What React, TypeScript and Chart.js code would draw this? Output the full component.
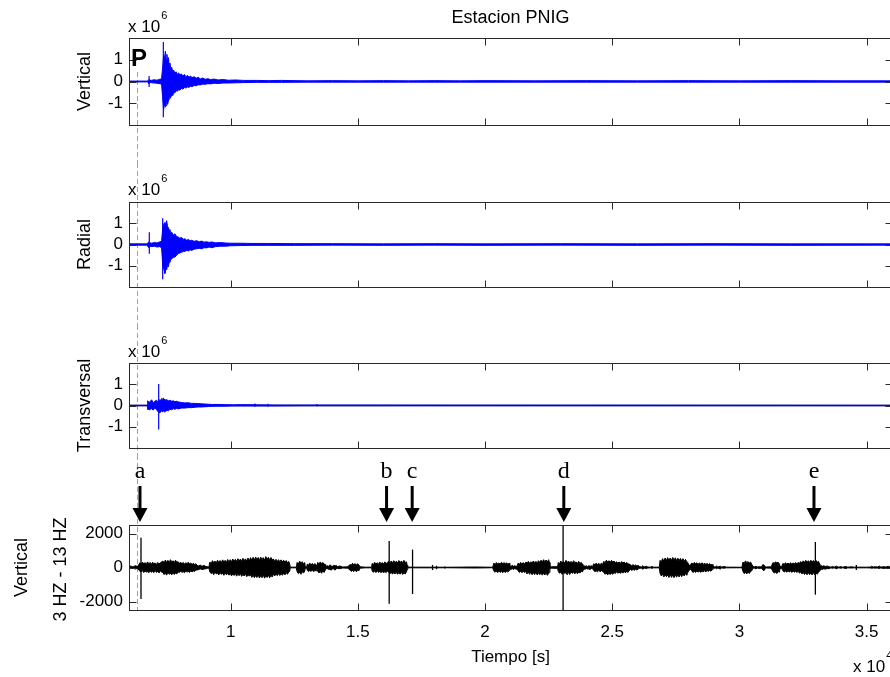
import React, { useEffect, useRef } from 'react';
import { Chart, registerables } from 'chart.js';

Chart.register(...registerables);

const SANS = '"Liberation Sans", Arial, Helvetica, sans-serif';
const SERIF = '"Liberation Serif", "Times New Roman", serif';

// ---------- data ----------
const T_MIN = 6000; // s
const T_MAX = 36000; // s
const X_TICKS = [10000, 15000, 20000, 25000, 30000, 35000];
const P_ARRIVAL = 6315; // s, dashed P-wave marker

const TOP_Y_TICKS = [-1, 0, 1]; // x 10^6
const FILT_Y_TICKS = [-2000, 0, 2000];

// envelopes: [time (s), upper, lower]  (top three panels in units of 10^6)
const VERT_ENV: number[][] = [
  [6000, 0.02, -0.02], [6700, 0.02, -0.02], [6760, 0.03, -0.03], [6780, 0.1, -0.1], [6800, 0.08, -0.06],
  [6820, 0.04, -0.04], [6900, 0.06, -0.06], [7000, 0.08, -0.07], [7100, 0.06, -0.08], [7200, 0.1, -0.1],
  [7280, 0.12, -0.12], [7320, 0.6, -0.7], [7360, 1.2, -1.3], [7400, 1.1, -1.0], [7430, 1.39, -1.18],
  [7460, 1.0, -1.1], [7490, 1.25, -0.95], [7520, 0.9, -1.05], [7550, 1.1, -0.9], [7580, 0.75, -0.8],
  [7610, 0.85, -0.7], [7640, 0.6, -0.75], [7680, 0.65, -0.6], [7720, 0.45, -0.65], [7760, 0.52, -0.5],
  [7800, 0.38, -0.53], [7850, 0.45, -0.42], [7900, 0.32, -0.45], [7950, 0.4, -0.38], [8000, 0.3, -0.4],
  [8060, 0.35, -0.32], [8120, 0.25, -0.35], [8180, 0.32, -0.28], [8240, 0.22, -0.3], [8300, 0.28, -0.25],
  [8360, 0.2, -0.27], [8420, 0.25, -0.22], [8480, 0.18, -0.24], [8560, 0.22, -0.18], [8640, 0.15, -0.2],
  [8720, 0.2, -0.15], [8800, 0.12, -0.16], [8900, 0.16, -0.12], [9000, 0.1, -0.13], [9100, 0.13, -0.1],
  [9200, 0.09, -0.11], [9350, 0.11, -0.08], [9500, 0.07, -0.09], [9700, 0.09, -0.07], [9900, 0.06, -0.07],
  [10200, 0.07, -0.06], [10500, 0.05, -0.05], [11000, 0.05, -0.04], [11500, 0.04, -0.04], [12000, 0.05, -0.04],
  [13000, 0.03, -0.03], [14000, 0.04, -0.03], [15000, 0.03, -0.03], [16000, 0.04, -0.03], [17000, 0.03, -0.03],
  [18000, 0.04, -0.03], [19000, 0.03, -0.03], [20000, 0.04, -0.03], [22000, 0.03, -0.03], [24000, 0.04, -0.03],
  [26000, 0.03, -0.03], [28000, 0.04, -0.03], [30000, 0.03, -0.03], [32000, 0.04, -0.03], [34000, 0.03, -0.03],
  [36000, 0.03, -0.03],
];
// spikes: [time (s), lower, upper]
const VERT_SPIKES: number[][] = [[6790, -0.25, 0.25], [7350, -1.64, 1.82]];

const RAD_ENV: number[][] = [
  [6000, 0.03, -0.03], [6700, 0.03, -0.03], [6780, 0.12, -0.15], [6820, 0.08, -0.08], [6900, 0.06, -0.1],
  [7000, 0.1, -0.08], [7100, 0.07, -0.12], [7200, 0.12, -0.1], [7280, 0.15, -0.15], [7330, 0.8, -1.0],
  [7380, 1.0, -1.2], [7415, 1.04, -1.36], [7450, 0.9, -1.1], [7481, 1.12, -1.2], [7515, 0.85, -0.95],
  [7546, 0.81, -1.05], [7580, 0.7, -0.85], [7612, 0.66, -0.82], [7645, 0.55, -0.7], [7679, 0.58, -0.68],
  [7740, 0.45, -0.6], [7808, 0.5, -0.59], [7870, 0.38, -0.5], [7939, 0.35, -0.43], [8000, 0.3, -0.4],
  [8070, 0.33, -0.36], [8140, 0.25, -0.33], [8201, 0.27, -0.32], [8270, 0.2, -0.28], [8340, 0.24, -0.3],
  [8400, 0.18, -0.25], [8464, 0.2, -0.28], [8560, 0.15, -0.22], [8660, 0.18, -0.2], [8760, 0.13, -0.18],
  [8857, 0.16, -0.2], [8950, 0.11, -0.15], [9050, 0.13, -0.16], [9150, 0.1, -0.12], [9250, 0.12, -0.15],
  [9400, 0.08, -0.1], [9600, 0.09, -0.08], [9800, 0.07, -0.08], [10000, 0.06, -0.06], [10400, 0.06, -0.05],
  [10800, 0.05, -0.04], [11500, 0.05, -0.04], [12500, 0.04, -0.04], [14000, 0.04, -0.03], [16000, 0.03, -0.04],
  [18000, 0.04, -0.03], [20000, 0.03, -0.04], [23000, 0.04, -0.03], [26000, 0.03, -0.04], [29000, 0.04, -0.03],
  [32000, 0.03, -0.04], [36000, 0.03, -0.03],
];
const RAD_SPIKES: number[][] = [[6798, -0.43, 0.58], [7324, -1.64, 1.24]];

const TRANS_ENV: number[][] = [
  [6000, 0.01, -0.01], [6720, 0.01, -0.01], [6734, 0.22, -0.18], [6800, 0.15, -0.2], [6891, 0.27, -0.15],
  [6950, 0.12, -0.22], [7020, 0.2, -0.12], [7087, 0.25, -0.2], [7130, 0.15, -0.28], [7218, 0.28, -0.35],
  [7250, 0.2, -0.25], [7284, 0.33, -0.27], [7320, 0.25, -0.3], [7349, 0.36, -0.22], [7380, 0.28, -0.3],
  [7415, 0.3, -0.25], [7450, 0.22, -0.28], [7480, 0.28, -0.22], [7546, 0.22, -0.25], [7610, 0.25, -0.18],
  [7677, 0.2, -0.2], [7740, 0.22, -0.15], [7808, 0.18, -0.18], [7870, 0.2, -0.14], [7939, 0.17, -0.16],
  [8070, 0.14, -0.12], [8201, 0.12, -0.12], [8330, 0.13, -0.1], [8463, 0.1, -0.1], [8600, 0.1, -0.08],
  [8725, 0.09, -0.07], [8850, 0.08, -0.07], [8987, 0.07, -0.06], [9120, 0.06, -0.05], [9249, 0.05, -0.04],
  [9500, 0.05, -0.03], [9773, 0.04, -0.03], [10100, 0.03, -0.02], [10428, 0.04, -0.02], [11083, 0.03, -0.02],
  [11738, 0.02, -0.02], [13000, 0.02, -0.01], [36000, 0.01, -0.01],
];
const TRANS_SPIKES: number[][] = [[7167, -1.13, 1.01], [10952, -0.06, 0.1], [11463, -0.05, 0.08], [13388, -0.04, 0.07]];

// band-pass filtered vertical (counts)
const FILT_ENV: number[][] = [
  [6000, 40, -40], [6080, 90, -60], [6150, 30, -40], [6250, 110, -90], [6330, 60, -50], [6380, 160, -150],
  [6432, 280, -220], [6480, 170, -260], [6530, 320, -180], [6580, 200, -300], [6630, 290, -200], [6680, 180, -270],
  [6730, 330, -240], [6780, 210, -310], [6830, 300, -190], [6880, 190, -280], [6930, 310, -230], [6980, 220, -300],
  [7030, 270, -180], [7080, 180, -290], [7130, 300, -230], [7180, 210, -320], [7230, 280, -200], [7280, 330, -260],
  [7336, 380, -300], [7380, 260, -420], [7430, 440, -330], [7480, 300, -450], [7530, 420, -280], [7580, 290, -400],
  [7630, 460, -350], [7680, 320, -430], [7730, 400, -300], [7780, 280, -410], [7830, 430, -320], [7880, 300, -380],
  [7926, 350, -250], [7980, 240, -300], [8030, 320, -200], [8080, 210, -290], [8130, 300, -240], [8180, 190, -310],
  [8230, 280, -200], [8280, 220, -270], [8330, 310, -230], [8380, 200, -290], [8430, 270, -190], [8480, 180, -260],
  [8530, 250, -200], [8580, 170, -230], [8630, 220, -160], [8672, 130, -140], [8730, 90, -130], [8800, 140, -80],
  [8870, 70, -120], [8950, 120, -90], [9020, 60, -80], [9065, 50, -50], [9120, 30, -30], [9144, 60, -50],
  [9180, 320, -260], [9230, 220, -360], [9280, 400, -300], [9330, 280, -420], [9380, 380, -260], [9430, 260, -380],
  [9480, 430, -330], [9530, 300, -440], [9580, 410, -290], [9630, 280, -400], [9680, 450, -340], [9730, 320, -460],
  [9780, 420, -300], [9830, 300, -430], [9880, 470, -350], [9930, 330, -450], [9980, 460, -360], [10030, 340, -490],
  [10080, 500, -380], [10130, 360, -470], [10180, 480, -340], [10230, 350, -510], [10280, 520, -400], [10330, 380, -480],
  [10380, 500, -360], [10430, 360, -520], [10480, 540, -410], [10530, 400, -500], [10580, 510, -370], [10630, 370, -540],
  [10680, 560, -420], [10730, 400, -510], [10780, 580, -430], [10830, 420, -580], [10880, 600, -450], [10930, 440, -600],
  [10980, 620, -470], [11030, 450, -590], [11080, 590, -440], [11130, 430, -620], [11180, 610, -470], [11230, 460, -600],
  [11280, 580, -430], [11330, 420, -630], [11380, 640, -480], [11430, 470, -590], [11480, 600, -450], [11530, 440, -610],
  [11580, 590, -460], [11630, 450, -560], [11680, 500, -380], [11730, 360, -500], [11780, 480, -360], [11830, 350, -480],
  [11880, 460, -340], [11930, 330, -470], [11980, 450, -350], [12030, 320, -460], [12080, 430, -330], [12130, 310, -440],
  [12180, 410, -300], [12230, 290, -400], [12280, 350, -260], [12320, 200, -220], [12340, 20, -20], [12580, 20, -20],
  [12610, 300, -250], [12660, 200, -360], [12710, 380, -280], [12760, 240, -400], [12810, 340, -230], [12860, 220, -330],
  [12910, 290, -210], [12930, 40, -40], [12990, 40, -40], [13010, 200, -160], [13060, 140, -240], [13110, 260, -170],
  [13160, 150, -230], [13210, 240, -150], [13260, 140, -250], [13310, 230, -170], [13360, 150, -200], [13390, 60, -60],
  [13420, 300, -220], [13470, 200, -320], [13520, 330, -240], [13570, 220, -340], [13620, 300, -200], [13670, 200, -290],
  [13710, 180, -160], [13730, 50, -50], [13800, 110, -70], [13850, 60, -110], [13900, 160, -120], [13950, 90, -150],
  [14000, 70, -90], [14050, 130, -80], [14100, 90, -160], [14150, 120, -70], [14200, 50, -60], [14292, 90, -70],
  [14400, 30, -30], [14600, 40, -40], [14690, 180, -150], [14740, 130, -230], [14790, 250, -170], [14840, 160, -240],
  [14890, 230, -150], [14940, 150, -250], [14990, 220, -160], [15040, 150, -190], [15080, 40, -40], [15300, 20, -20],
  [15540, 20, -20], [15560, 240, -200], [15610, 170, -280], [15660, 300, -210], [15710, 200, -300], [15760, 280, -190],
  [15810, 190, -290], [15860, 320, -230], [15910, 220, -310], [15960, 290, -200], [16010, 210, -320], [16060, 330, -240],
  [16110, 230, -300], [16160, 300, -220], [16210, 360, -260], [16260, 250, -370], [16310, 380, -280], [16360, 270, -390],
  [16410, 400, -300], [16460, 290, -380], [16510, 370, -270], [16560, 260, -400], [16610, 410, -300], [16660, 300, -390],
  [16710, 380, -280], [16760, 270, -410], [16810, 420, -310], [16860, 300, -380], [16910, 330, -250], [16940, 120, -120],
  [16960, 20, -20], [17800, 20, -20], [18500, 15, -15], [19598, 30, -30], [20300, 15, -15], [20345, 260, -210],
  [20395, 180, -280], [20445, 290, -200], [20495, 200, -300], [20545, 270, -190], [20595, 190, -290], [20645, 310, -220],
  [20695, 210, -310], [20745, 290, -200], [20795, 200, -300], [20845, 280, -210], [20895, 190, -270], [20945, 250, -180],
  [20973, 100, -100], [21020, 60, -110], [21070, 130, -70], [21120, 70, -120], [21170, 110, -60], [21220, 60, -100],
  [21270, 120, -90], [21300, 260, -200], [21350, 190, -290], [21400, 300, -220], [21450, 210, -310], [21500, 290, -200],
  [21550, 200, -300], [21600, 310, -230], [21650, 280, -380], [21700, 360, -260], [21750, 250, -400], [21800, 340, -280],
  [21850, 270, -430], [21900, 380, -300], [21950, 280, -420], [22000, 360, -270], [22050, 260, -440], [22100, 400, -310],
  [22150, 300, -420], [22200, 430, -320], [22250, 320, -450], [22300, 460, -340], [22350, 340, -440], [22400, 440, -330],
  [22450, 330, -460], [22500, 460, -350], [22530, 300, -300], [22550, 60, -60], [22600, 40, -40], [22850, 50, -50],
  [22880, 300, -240], [22930, 220, -340], [22980, 380, -280], [23030, 260, -400], [23080, 350, -250], [23130, 250, -360],
  [23180, 420, -300], [23230, 290, -430], [23280, 380, -270], [23330, 280, -410], [23380, 360, -260], [23430, 250, -340],
  [23480, 400, -290], [23530, 280, -380], [23580, 330, -230], [23630, 230, -370], [23680, 360, -260], [23730, 240, -330],
  [23780, 300, -220], [23830, 200, -260], [23880, 120, -80], [23930, 60, -110], [23980, 100, -60], [24030, 50, -90],
  [24080, 110, -80], [24130, 70, -120], [24180, 100, -60], [24230, 60, -70], [24270, 220, -170], [24320, 160, -250],
  [24370, 260, -190], [24420, 180, -260], [24470, 240, -160], [24520, 170, -250], [24570, 250, -180], [24620, 190, -240],
  [24670, 360, -280], [24720, 280, -400], [24770, 430, -320], [24820, 320, -440], [24870, 400, -300], [24920, 300, -420],
  [24970, 420, -330], [25020, 320, -400], [25070, 380, -290], [25120, 280, -360], [25170, 340, -240], [25220, 250, -340],
  [25270, 330, -260], [25320, 240, -350], [25370, 350, -250], [25420, 260, -330], [25470, 320, -230], [25520, 230, -320],
  [25570, 300, -220], [25620, 210, -290], [25670, 200, -180], [25720, 160, -120], [25770, 110, -170], [25820, 170, -110],
  [25870, 100, -160], [25920, 150, -100], [25970, 90, -150], [26030, 120, -80], [26082, 50, -50], [26150, 30, -30],
  [26200, 100, -110], [26250, 30, -30], [26350, 70, -60], [26400, 30, -30], [26500, 20, -20], [26560, 60, -50],
  [26620, 20, -20], [26850, 20, -20], [26880, 420, -340], [26930, 340, -500], [26980, 520, -380], [27030, 380, -560],
  [27080, 560, -420], [27130, 410, -540], [27180, 580, -430], [27230, 430, -590], [27280, 560, -410], [27330, 420, -580],
  [27380, 590, -440], [27430, 440, -600], [27480, 570, -420], [27530, 410, -570], [27580, 550, -400], [27630, 400, -560],
  [27680, 540, -390], [27730, 390, -540], [27780, 520, -380], [27830, 370, -500], [27880, 480, -350], [27930, 340, -460],
  [27969, 300, -300], [28020, 120, -160], [28080, 160, -120], [28130, 270, -200], [28180, 190, -300], [28230, 300, -220],
  [28280, 210, -290], [28330, 280, -190], [28380, 190, -280], [28430, 270, -200], [28480, 200, -290], [28530, 280, -190],
  [28580, 180, -270], [28630, 260, -180], [28680, 170, -260], [28730, 250, -170], [28780, 160, -240], [28830, 230, -160],
  [28880, 150, -220], [28930, 180, -130], [28960, 50, -50], [29050, 30, -30], [29100, 90, -70], [29150, 30, -30],
  [29250, 70, -90], [29300, 30, -30], [29420, 60, -40], [29480, 20, -20], [30100, 15, -15], [30140, 320, -240],
  [30190, 240, -360], [30240, 390, -290], [30290, 280, -380], [30340, 350, -260], [30390, 260, -350], [30440, 320, -240],
  [30480, 200, -200], [30530, 80, -50], [30580, 30, -30], [30650, 70, -80], [30700, 30, -30], [30780, 50, -60],
  [30870, 30, -30], [30920, 170, -150], [30970, 130, -180], [31020, 60, -60], [31050, 30, -30], [31250, 40, -40],
  [31320, 290, -240], [31370, 230, -330], [31420, 340, -270], [31470, 260, -360], [31520, 310, -230], [31570, 230, -280],
  [31600, 60, -60], [31660, 50, -50], [31710, 240, -190], [31760, 180, -270], [31810, 280, -200], [31860, 200, -280],
  [31910, 260, -190], [31960, 190, -270], [32010, 280, -210], [32060, 210, -290], [32110, 270, -200], [32160, 200, -280],
  [32210, 290, -210], [32260, 210, -300], [32310, 300, -220], [32360, 240, -330], [32410, 350, -260], [32460, 270, -380],
  [32510, 390, -290], [32560, 290, -410], [32610, 420, -310], [32660, 310, -430], [32710, 400, -300], [32760, 300, -420],
  [32810, 430, -320], [32860, 320, -440], [32910, 410, -300], [32960, 300, -430], [33010, 420, -320], [33060, 310, -400],
  [33110, 360, -270], [33156, 200, -220], [33210, 110, -80], [33260, 70, -120], [33320, 100, -70], [33380, 60, -100],
  [33450, 90, -60], [33520, 50, -70], [33600, 20, -20], [33660, 60, -50], [33720, 20, -20], [33830, 80, -70],
  [33880, 20, -20], [34000, 50, -40], [34060, 20, -20], [34200, 60, -60], [34260, 20, -20], [34400, 40, -30],
  [34531, 20, -20], [35000, 20, -20], [35150, 25, -25], [35200, 70, -50], [35260, 25, -25], [35350, 50, -40],
  [35420, 25, -25], [35500, 80, -60], [35560, 25, -25], [35700, 50, -60], [35760, 25, -25], [35850, 70, -40],
  [35920, 25, -25], [36000, 40, -40],
];
const FILT_SPIKES: number[][] = [
  [6472, -1850, 1750], [16230, -2130, 1560], [17149, -1560, 1050], [23068, -2600, 2600], [32987, -1600, 1500],
  [17935, -150, 150], [18092, -100, 100], [18419, -60, 60], [34598, -150, 150],
];

const EVENT_LABELS = ['a', 'b', 'c', 'd', 'e'];
const EVENT_TIMES = [6432, 16127, 17134, 23096, 32932];

// ---------- layout ----------
const CANVAS_W = 900;
const AXIS_LEFT = 129;
const AXIS_RIGHT_PAD = 8;
const FRAME = '#2a2a2a';
const TICK_LEN = 7;

type Panel = {
  key: string;
  top: number;
  height: number;
  padTop: number;
  padBottom: number;
  yMin: number;
  yMax: number;
  yTicks: number[];
  env: number[][];
  spikes: number[][];
  color: string;
  spikeWidth: number;
  zeroColor?: string;
  showX?: boolean;
  dashFrom: number;
  dashToArea?: boolean;
  decorate: (chart: any) => void;
};

function drawExp(ctx: CanvasRenderingContext2D, x: number, y: number, exp: string) {
  ctx.save();
  ctx.fillStyle = '#000';
  ctx.textAlign = 'left';
  ctx.textBaseline = 'alphabetic';
  ctx.font = `17px ${SANS}`;
  ctx.fillText('x 10', x, y);
  const w = ctx.measureText('x 10').width;
  ctx.font = `11px ${SANS}`;
  ctx.fillText(exp, x + w + 1, y - 13);
  ctx.restore();
}

function drawYLabel(ctx: CanvasRenderingContext2D, text: string, x: number, y: number) {
  ctx.save();
  ctx.translate(x, y);
  ctx.rotate(-Math.PI / 2);
  ctx.fillStyle = '#000';
  ctx.font = `18px ${SANS}`;
  ctx.textAlign = 'center';
  ctx.textBaseline = 'middle';
  ctx.fillText(text, 0, 0);
  ctx.restore();
}

const PANELS: Panel[] = [
  {
    key: 'vert', top: 0, height: 163, padTop: 38, padBottom: 38,
    yMin: -2, yMax: 2, yTicks: TOP_Y_TICKS, env: VERT_ENV, spikes: VERT_SPIKES,
    color: '#0000ff', spikeWidth: 1.2, dashFrom: 72,
    decorate: (chart) => {
      const { ctx, chartArea } = chart;
      ctx.save();
      ctx.fillStyle = '#000';
      ctx.font = `18px ${SANS}`;
      ctx.textAlign = 'center';
      ctx.fillText('Estacion PNIG', (chartArea.left + chartArea.right) / 2, 23);
      ctx.font = `bold 24px ${SANS}`;
      ctx.textAlign = 'left';
      ctx.fillText('P', chartArea.left + 2, chartArea.top + 28);
      ctx.restore();
      drawExp(ctx, chartArea.left - 1, chartArea.top - 6, '6');
      drawYLabel(ctx, 'Vertical', 85, (chartArea.top + chartArea.bottom) / 2);
    },
  },
  {
    key: 'rad', top: 163, height: 162, padTop: 39, padBottom: 38,
    yMin: -2, yMax: 2, yTicks: TOP_Y_TICKS, env: RAD_ENV, spikes: RAD_SPIKES,
    color: '#0000ff', spikeWidth: 1.2, dashFrom: 0,
    decorate: (chart) => {
      const { ctx, chartArea } = chart;
      drawExp(ctx, chartArea.left - 1, chartArea.top - 7, '6');
      drawYLabel(ctx, 'Radial', 85, (chartArea.top + chartArea.bottom) / 2);
    },
  },
  {
    key: 'trans', top: 325, height: 130, padTop: 38, padBottom: 7,
    yMin: -2, yMax: 2, yTicks: TOP_Y_TICKS, env: TRANS_ENV, spikes: TRANS_SPIKES,
    color: '#0000ff', spikeWidth: 1.2, zeroColor: '#10103a', dashFrom: 0,
    decorate: (chart) => {
      const { ctx, chartArea } = chart;
      drawExp(ctx, chartArea.left - 1, chartArea.top - 6, '6');
      drawYLabel(ctx, 'Transversal', 85, (chartArea.top + chartArea.bottom) / 2);
    },
  },
  {
    key: 'filt', top: 455, height: 222, padTop: 70, padBottom: 0,
    yMin: -2500, yMax: 2500, yTicks: FILT_Y_TICKS, env: FILT_ENV, spikes: FILT_SPIKES,
    color: '#000000', spikeWidth: 1.3, showX: true, dashFrom: 0, dashToArea: true,
    decorate: (chart) => {
      const { ctx, chartArea, scales } = chart;
      const mid = (chartArea.top + chartArea.bottom) / 2;
      drawYLabel(ctx, 'Vertical', 22, mid);
      drawYLabel(ctx, '3 HZ - 13 HZ', 61, mid + 2);
      drawExp(ctx, 853, 217, '4');
      ctx.save();
      ctx.fillStyle = '#000';
      ctx.strokeStyle = '#000';
      EVENT_TIMES.forEach((t, i) => {
        const x = scales.x.getPixelForValue(t);
        ctx.font = `24px ${SERIF}`;
        ctx.textAlign = 'center';
        ctx.textBaseline = 'alphabetic';
        ctx.fillText(EVENT_LABELS[i], x, 23);
        ctx.lineWidth = 3;
        ctx.beginPath();
        ctx.moveTo(x, 31);
        ctx.lineTo(x, 56);
        ctx.stroke();
        ctx.beginPath();
        ctx.moveTo(x - 7.5, 53);
        ctx.lineTo(x + 7.5, 53);
        ctx.lineTo(x, 67);
        ctx.closePath();
        ctx.fill();
      });
      ctx.restore();
    },
  },
];

function framePlugin(p: Panel) {
  return {
    id: 'frame_' + p.key,
    beforeDatasetsDraw(chart: any) {
      const { ctx, chartArea, scales } = chart;
      const x = Math.round(scales.x.getPixelForValue(P_ARRIVAL)) + 0.5;
      ctx.save();
      ctx.strokeStyle = '#a0a0a0';
      ctx.lineWidth = 1;
      ctx.setLineDash([5, 3]);
      ctx.beginPath();
      ctx.moveTo(x, p.dashFrom);
      ctx.lineTo(x, p.dashToArea ? chartArea.bottom : chart.height);
      ctx.stroke();
      ctx.restore();
    },
    afterDatasetsDraw(chart: any) {
      const { ctx, chartArea, scales } = chart;
      const l = Math.round(chartArea.left) + 0.5;
      const r = Math.round(chartArea.right) + 0.5;
      const t = Math.round(chartArea.top) + 0.5;
      const b = Math.round(chartArea.bottom) + 0.5;
      ctx.save();
      ctx.strokeStyle = FRAME;
      ctx.lineWidth = 1;
      ctx.strokeRect(l, t, r - l, b - t);
      ctx.beginPath();
      X_TICKS.forEach((v) => {
        const x = Math.round(scales.x.getPixelForValue(v)) + 0.5;
        ctx.moveTo(x, t);
        ctx.lineTo(x, t + TICK_LEN);
        ctx.moveTo(x, b);
        ctx.lineTo(x, b - TICK_LEN);
      });
      p.yTicks.forEach((v) => {
        const y = Math.round(scales.y.getPixelForValue(v)) + 0.5;
        ctx.moveTo(l, y);
        ctx.lineTo(l + TICK_LEN, y);
        ctx.moveTo(r, y);
        ctx.lineTo(r - TICK_LEN, y);
      });
      ctx.stroke();
      ctx.restore();
    },
    afterDraw(chart: any) {
      p.decorate(chart);
    },
  };
}

function buildConfig(p: Panel): any {
  const datasets: any[] = [
    {
      data: p.env.map(([t, hi]) => ({ x: t, y: hi })),
      borderColor: p.color, backgroundColor: p.color, borderWidth: 1,
      pointRadius: 0, fill: '+1', tension: 0,
    },
    {
      data: p.env.map(([t, , lo]) => ({ x: t, y: lo })),
      borderColor: p.color, backgroundColor: p.color, borderWidth: 1,
      pointRadius: 0, fill: false, tension: 0,
    },
    ...p.spikes.map(([t, lo, hi]) => ({
      data: [{ x: t, y: lo }, { x: t, y: hi }],
      borderColor: p.color, borderWidth: p.spikeWidth, pointRadius: 0, fill: false,
    })),
  ];
  if (p.zeroColor) {
    datasets.push({
      data: [{ x: T_MIN, y: 0 }, { x: T_MAX, y: 0 }],
      borderColor: p.zeroColor, borderWidth: 1.3, pointRadius: 0, fill: false,
    });
  }
  const tickFont = { family: SANS, size: 17 };
  return {
    type: 'line',
    data: { datasets },
    options: {
      animation: false,
      responsive: false,
      maintainAspectRatio: false,
      devicePixelRatio: 1,
      events: [],
      layout: { padding: { top: p.padTop, bottom: p.padBottom, left: 0, right: AXIS_RIGHT_PAD } },
      plugins: { legend: { display: false }, tooltip: { enabled: false }, title: { display: false } },
      scales: {
        x: {
          type: 'linear', min: T_MIN, max: T_MAX, display: !!p.showX,
          afterBuildTicks: (s: any) => { s.ticks = X_TICKS.map((v) => ({ value: v })); },
          afterFit: (s: any) => {
            if (p.showX) s.height = 67;
            s.paddingLeft = 0; s.paddingRight = 0;
          },
          grid: { display: false, drawTicks: false },
          border: { display: false },
          ticks: {
            color: '#000', font: tickFont, padding: 12, maxRotation: 0, autoSkip: false,
            callback: (v: any) => String(Number(v) / 10000),
          },
          title: {
            display: !!p.showX, text: 'Tiempo [s]', color: '#000', font: tickFont,
            padding: { top: 0, bottom: 9 },
          },
        },
        y: {
          type: 'linear', min: p.yMin, max: p.yMax,
          afterBuildTicks: (s: any) => { s.ticks = p.yTicks.map((v) => ({ value: v })); },
          afterFit: (s: any) => { s.width = AXIS_LEFT; s.paddingTop = 0; s.paddingBottom = 0; },
          grid: { display: false, drawTicks: false },
          border: { display: false },
          ticks: { color: '#000', font: tickFont, padding: 6, callback: (v: any) => String(v) },
        },
      },
    },
    plugins: [framePlugin(p)],
  };
}

function SeismoPanel({ panel }: { panel: Panel }) {
  const ref = useRef<HTMLCanvasElement | null>(null);
  useEffect(() => {
    if (!ref.current) return;
    const chart = new Chart(ref.current, buildConfig(panel));
    return () => chart.destroy();
  }, [panel]);
  return (
    <canvas
      ref={ref}
      width={CANVAS_W}
      height={panel.height}
      style={{ position: 'absolute', left: 0, top: panel.top, width: CANVAS_W, height: panel.height }}
    />
  );
}

export default function App() {
  return (
    <div
      style={{
        position: 'fixed', left: 0, top: 0, width: 890, height: 677,
        overflow: 'hidden', background: '#ffffff',
      }}
    >
      {PANELS.map((p) => (
        <SeismoPanel key={p.key} panel={p} />
      ))}
    </div>
  );
}
